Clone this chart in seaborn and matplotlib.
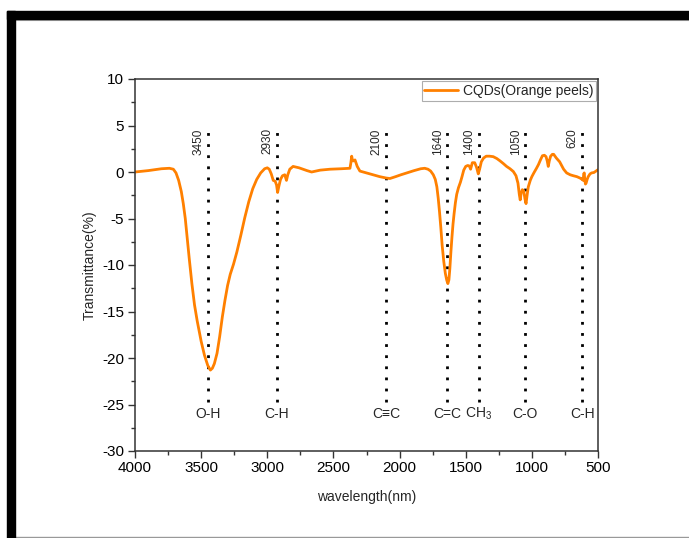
import numpy as np
import pandas as pd
import matplotlib
matplotlib.use("Agg")
import matplotlib.pyplot as plt
from matplotlib.patches import Rectangle
from matplotlib.lines import Line2D
from matplotlib.ticker import MultipleLocator
import seaborn as sns

# FTIR spectrum of carbon quantum dots from orange peels
wavenumber = [
    4000, 3900, 3800, 3740, 3710, 3690, 3670, 3650, 3635, 3620, 3605, 3590,
    3570, 3550, 3530, 3500, 3475, 3450, 3430, 3415, 3400, 3380, 3360, 3340,
    3320, 3300, 3280, 3255, 3230, 3200, 3170, 3140, 3110, 3080, 3050, 3020,
    3000, 2985, 2970, 2955, 2940, 2930, 2922, 2912, 2900, 2885, 2868, 2855,
    2845, 2830, 2805, 2760, 2700, 2665, 2600, 2526, 2440, 2375, 2368, 2362,
    2355, 2345, 2337, 2320, 2300, 2250, 2199, 2150, 2100, 2073, 2030, 1990,
    1946, 1890, 1840, 1810, 1785, 1765, 1745, 1730, 1718, 1708, 1698, 1688,
    1678, 1666, 1654, 1644, 1635, 1627, 1620, 1612, 1604, 1596, 1588, 1578,
    1568, 1555, 1540, 1528, 1515, 1500, 1485, 1473, 1463, 1450, 1432, 1418,
    1405, 1395, 1382, 1365, 1345, 1320, 1292, 1265, 1241, 1215, 1191, 1165,
    1140, 1120, 1105, 1095, 1088, 1080, 1072, 1062, 1052, 1044, 1036, 1027,
    1012, 1000, 985, 965, 950, 935, 920, 905, 893, 884, 876, 868,
    858, 845, 835, 815, 790, 760, 737, 710, 687, 660, 636, 620,
    612, 608, 604, 600, 595, 590, 582, 574, 560, 548, 530, 515, 500,
]
transmittance = [
    0.0, 0.15, 0.35, 0.4, 0.3, -0.1, -0.9, -2.1, -3.4, -5.0, -7.2, -9.3,
    -12.0, -14.3, -16.0, -18.2, -19.7, -20.8, -21.3, -21.1, -20.6, -19.5, -17.7, -15.6,
    -13.8, -12.2, -11.0, -9.9, -8.6, -6.8, -4.9, -3.2, -1.8, -0.8, -0.1, 0.35,
    0.45, 0.3, -0.2, -0.9, -1.0, -1.4, -2.2, -1.5, -0.8, -0.4, -0.3, -0.9,
    -0.3, 0.3, 0.6, 0.45, 0.15, 0.0, 0.2, 0.3, 0.35, 0.4, 1.0, 1.7,
    1.2, 1.2, 1.3, 0.6, 0.1, -0.1, -0.3, -0.5, -0.65, -0.7, -0.5, -0.3,
    -0.1, 0.15, 0.35, 0.4, 0.3, 0.1, -0.3, -0.8, -1.6, -2.8, -4.3, -6.0,
    -7.9, -9.6, -10.9, -11.6, -12.0, -11.6, -10.4, -8.6, -7.0, -5.6, -4.5, -3.3,
    -2.4, -1.7, -1.1, -0.5, 0.2, 0.6, 0.7, 0.65, 0.3, 1.0, 1.0, 0.5,
    -0.2, 0.3, 1.1, 1.5, 1.7, 1.7, 1.65, 1.45, 1.2, 0.9, 0.6, 0.35,
    0.05, -0.4, -1.2, -2.4, -3.0, -2.2, -1.9, -2.0, -2.9, -3.4, -2.5, -1.6,
    -0.9, -0.5, -0.1, 0.4, 0.8, 1.3, 1.75, 1.8, 1.65, 1.2, 0.6, 1.2,
    1.7, 1.9, 1.9, 1.5, 1.1, 0.3, -0.1, -0.3, -0.4, -0.5, -0.65, -0.8,
    -0.9, -0.2, -0.1, -0.8, -1.3, -1.2, -0.8, -0.5, -0.2, -0.1, -0.05, 0.1, 0.25,
]

# Band assignments: peak position, rotated label, group name below
band_positions = [3450, 2930, 2100, 1640, 1400, 1050, 620]
band_numbers = ["3450", "2930", "2100", "1640", "1400", "1050", "620"]
band_groups = ["O-H", "C-H", "C\u2261C", "C=C", "CH$_3$", "C-O", "C-H"]

x_ticks = [4000, 3500, 3000, 2500, 2000, 1500, 1000, 500]
y_ticks = [-30, -25, -20, -15, -10, -5, 0, 5, 10]
series_name = "CQDs(Orange peels)"

df = pd.DataFrame({"wavenumber": wavenumber, "transmittance": transmittance})

sns.set_theme(style="ticks")
plt.rcParams["font.family"] = ["Liberation Sans", "DejaVu Sans"]
plt.rcParams["mathtext.fontset"] = "custom"
plt.rcParams["mathtext.rm"] = "Liberation Sans"
plt.rcParams["mathtext.it"] = "Liberation Sans:italic"
plt.rcParams["axes.unicode_minus"] = False

fig = plt.figure(figsize=(6.89, 5.38), dpi=100)
fig.patch.set_facecolor("white")
ax = fig.add_axes([135 / 689, 1 - 451 / 538, 463 / 689, 372 / 538])

orange = "#FF8000"
sns.lineplot(data=df, x="wavenumber", y="transmittance", ax=ax, color=orange,
             linewidth=2.0, estimator=None, sort=False, legend=False)

ax.set_xlim(4000, 500)
ax.set_ylim(-30, 10)
ax.set_xticks(x_ticks)
ax.set_yticks(y_ticks)
ax.xaxis.set_minor_locator(MultipleLocator(250))
ax.yaxis.set_minor_locator(MultipleLocator(2.5))
ax.tick_params(axis="both", which="major", direction="out", length=5, width=1.0,
               color="#333333", labelsize=11, labelcolor="black")
ax.tick_params(axis="both", which="minor", direction="out", length=3, width=1.0,
               color="#333333")
ax.tick_params(axis="x", pad=2)
ax.tick_params(axis="y", pad=3)
for side in ["top", "right", "bottom", "left"]:
    ax.spines[side].set_visible(True)
    ax.spines[side].set_color("#333333")
    ax.spines[side].set_linewidth(1.1)

ax.set_xlabel("wavelength(nm)", fontsize=10, labelpad=11)
ax.set_ylabel("Transmittance(%)", fontsize=10, labelpad=4)

# Dotted guides at each band with wavenumber and group labels
for pos, num, grp in zip(band_positions, band_numbers, band_groups):
    ax.plot([pos, pos], [-24.7, 4.9], color="black", linewidth=2.0,
            linestyle=(0, (1, 3.0)), zorder=1)
    ax.annotate(num, xy=(pos, 4.7), xytext=(-2.5, 0), textcoords="offset points",
                rotation=90, ha="right", va="top", fontsize=8.5)
    ax.text(pos, -26.0, grp, ha="center", va="center", fontsize=10,
            family=["Liberation Sans", "DejaVu Sans"])

handle = Line2D([], [], color=orange, linewidth=2.0)
leg = ax.legend([handle], [series_name], loc="upper right", fontsize=10,
                frameon=True, fancybox=False, borderaxespad=0.15,
                handlelength=2.4, handletextpad=0.35, borderpad=0.2)
leg.get_frame().set_edgecolor("#999999")
leg.get_frame().set_linewidth(0.8)

# Page frame around the figure
W, H = 689, 538
fig.patches.append(Rectangle((7 / W, 1 - 19 / H), 1 - 7 / W, 8 / H,
                             transform=fig.transFigure, color="black", zorder=5))
fig.patches.append(Rectangle((7 / W, 0), 7.5 / W, 1 - 11 / H,
                             transform=fig.transFigure, color="black", zorder=5))
fig.lines.append(Line2D([14.5 / W, 1], [1 - 19.8 / H, 1 - 19.8 / H],
                        transform=fig.transFigure, color="#aaaaaa", linewidth=0.8))
fig.lines.append(Line2D([14.5 / W, 1], [1.5 / H, 1.5 / H],
                        transform=fig.transFigure, color="#999999", linewidth=1.0))

fig.savefig("out.png", dpi=100, facecolor="white")
